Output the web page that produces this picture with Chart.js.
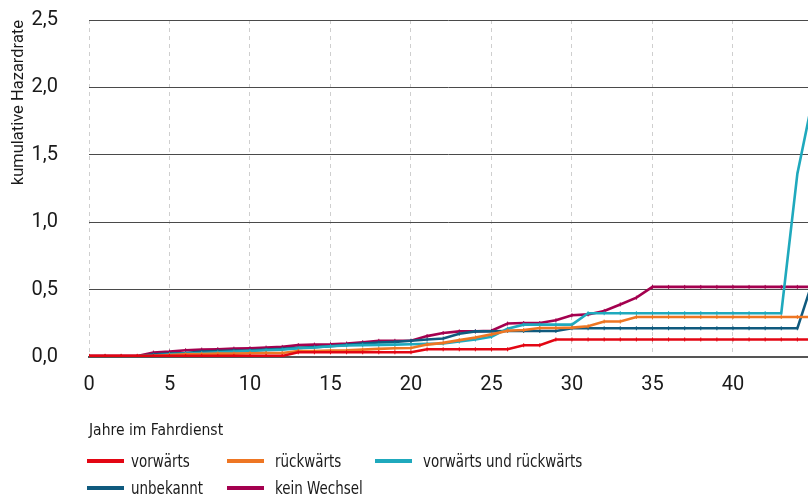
<!DOCTYPE html>
<html lang="de">
<head>
<meta charset="utf-8">
<script src="https://cdn.jsdelivr.net/npm/chart.js@4.4.1/dist/chart.umd.min.js"></script>
<style>
  html, body { margin: 0; padding: 0; background: #fff; overflow: hidden; }
  #wrap { position: relative; width: 808px; height: 496px; overflow: hidden; }
  #legende { position: absolute; left: 0; top: 0; font-family: 'Liberation Sans Narrow', 'DejaVu Sans Condensed', sans-serif; font-size: 17px; color: #1a1a1a; }
  .eintrag { position: absolute; display: flex; align-items: center; white-space: nowrap; height: 20px; }
  .strich { width: 37px; height: 4px; flex: none; }
  .text { display: inline-block; transform: scaleX(0.88); transform-origin: left center; }
</style>
</head>
<body>
<div id="wrap">
  <!-- etwas breiter als das Fenster: das Diagramm ist rechts abgeschnitten wie im Original -->
  <canvas id="grafik" width="813" height="496"></canvas>
  <div id="legende"></div>
</div>
<script>
// Jahre im Fahrdienst (x-Werte, ein Punkt pro Jahr)
const jahre = [0,1,2,3,4,5,6,7,8,9,10,11,12,13,14,15,16,17,18,19,20,21,22,23,24,25,26,27,28,29,30,31,32,33,34,35,36,37,38,39,40,41,42,43,44,45];

// kumulative Hazardrate je Gruppe
const vorwaerts = [0.008,0.008,0.008,0.008,0.008,0.008,0.008,0.008,0.008,0.008,0.008,0.008,0.008,
  0.035,0.035,0.035,0.035,0.035,0.035,0.035,0.035,
  0.057,0.057,0.057,0.057,0.057,0.057,
  0.087,0.087,
  0.13,0.13,0.13,0.13,0.13,0.13,0.13,0.13,0.13,0.13,0.13,0.13,0.13,0.13,0.13,0.13,0.13];
const rueckwaerts = [0.005,0.005,0.005,0.005,0.008,0.015,0.02,0.022,0.025,0.025,0.028,0.03,0.03,
  0.045,0.045,0.048,0.05,0.055,0.06,0.065,0.067,0.092,0.105,0.125,0.145,0.168,0.195,0.2,0.215,0.215,
  0.218,0.228,0.263,0.263,0.297,0.297,0.297,0.297,0.297,0.297,0.297,0.297,0.297,0.297,0.297,0.297];
const beides = [0.005,0.005,0.005,0.005,0.01,0.02,0.025,0.03,0.035,0.04,0.045,0.05,0.055,
  0.065,0.07,0.08,0.085,0.088,0.09,0.092,0.095,0.097,0.1,0.115,0.13,0.15,0.21,0.24,0.24,0.24,0.24,
  0.325,0.325,0.325,0.325,0.325,0.325,0.325,0.325,0.325,0.325,0.325,0.325,0.325,1.36,1.94];
const unbekannt = [0.005,0.005,0.005,0.005,0.02,0.025,0.03,0.04,0.045,0.048,0.05,0.055,0.06,
  0.068,0.073,0.08,0.09,0.1,0.107,0.112,0.12,0.13,0.137,0.173,0.19,0.19,0.193,0.193,0.193,0.193,
  0.213,0.213,0.213,0.213,0.213,0.213,0.213,0.213,0.213,0.213,0.213,0.213,0.213,0.213,0.213,0.58];
const keinWechsel = [0.008,0.008,0.008,0.008,0.033,0.04,0.05,0.055,0.058,0.062,0.065,0.07,0.075,
  0.088,0.092,0.094,0.1,0.11,0.12,0.12,0.12,0.155,0.178,0.19,0.19,0.195,0.248,0.252,0.252,0.272,
  0.31,0.316,0.342,0.39,0.44,0.52,0.52,0.52,0.52,0.52,0.52,0.52,0.52,0.52,0.52,0.52];

const gruppen = ['vorwärts', 'rückwärts', 'vorwärts und rückwärts', 'unbekannt', 'kein Wechsel'];
const xTicks = [0, 5, 10, 15, 20, 25, 30, 35, 40];
const yTicks = [0, 0.5, 1.0, 1.5, 2.0, 2.5];

const farben = ['#e30613', '#ee7623', '#1fa9bd', '#0f5a7e', '#a4004f'];
const reihen = [vorwaerts, rueckwaerts, beides, unbekannt, keinWechsel];

// Punkte {x, y} aus den Arrays bauen
function punkte(werte) {
  return werte.map((v, i) => ({ x: jahre[i], y: v }));
}

const schmal = "'Liberation Sans Narrow', 'DejaVu Sans Condensed', sans-serif";

const grafik = new Chart(document.getElementById('grafik'), {
  type: 'line',
  data: {
    datasets: reihen.map((r, i) => ({
      label: gruppen[i],
      data: punkte(r),
      borderColor: farben[i],
      backgroundColor: farben[i],
      borderWidth: 2.6,
      pointStyle: 'line',
      pointRotation: 90,
      pointRadius: 2,
      pointBorderWidth: 1,
      pointBorderColor: farben[i],
      tension: 0,
      fill: false
    }))
  },
  options: {
    responsive: false,
    animation: false,
    layout: { padding: { left: 0, right: 0, top: 20, bottom: 54 } },
    plugins: { legend: { display: false }, tooltip: { enabled: false } },
    scales: {
      x: {
        type: 'linear',
        min: 0,
        max: 44.66,
        afterBuildTicks: (s) => { s.ticks = xTicks.map(v => ({ value: v })); },
        afterFit: (s) => { s.height = 85; s.paddingLeft = 0; s.paddingRight = 0; },
        ticks: { padding: 16, color: '#1a1a1a', font: { family: 'Roboto', size: 20 } },
        grid: { color: '#cfcfcf', lineWidth: 1, drawTicks: false },
        border: { display: true, color: '#555', width: 2, dash: [4, 4] },
        title: { display: true, text: 'Jahre im Fahrdienst', align: 'start', color: '#1a1a1a',
                 font: { family: schmal, size: 15.5 }, padding: { top: 0, bottom: 2 } }
      },
      y: {
        min: 0,
        max: 2.5,
        afterBuildTicks: (s) => { s.ticks = yTicks.map(v => ({ value: v })); },
        afterFit: (s) => { s.width = 89; s.paddingTop = 0; s.paddingBottom = 0; },
        ticks: { padding: 31, color: '#1a1a1a', font: { family: 'Roboto', size: 20 },
                 callback: (v) => v.toFixed(1).replace('.', ',') },
        grid: { color: '#4a4a4a', lineWidth: 1, drawTicks: false },
        border: { display: false },
        title: { display: true, text: 'kumulative Hazardrate', align: 'end', color: '#1a1a1a',
                 font: { family: 'Roboto', size: 16.5 }, padding: { top: 9, bottom: 0 } }
      }
    }
  }
});

// Legende als Tabelle unter dem Diagramm
const spaltenX = [87, 227, 375];
const textAbstand = [7, 11, 11];
const zeilenY = [451, 478];
const legende = document.getElementById('legende');
grafik.data.datasets.forEach((ds, i) => {
  const spalte = i % 3, zeile = Math.floor(i / 3);
  const el = document.createElement('div');
  el.className = 'eintrag';
  el.style.left = spaltenX[spalte] + 'px';
  el.style.top = zeilenY[zeile] + 'px';
  const strich = document.createElement('span');
  strich.className = 'strich';
  strich.style.background = ds.borderColor;
  const text = document.createElement('span');
  text.className = 'text';
  text.textContent = ds.label;
  text.style.marginLeft = textAbstand[spalte] + 'px';
  el.appendChild(strich);
  el.appendChild(text);
  legende.appendChild(el);
});
</script>
</body>
</html>
